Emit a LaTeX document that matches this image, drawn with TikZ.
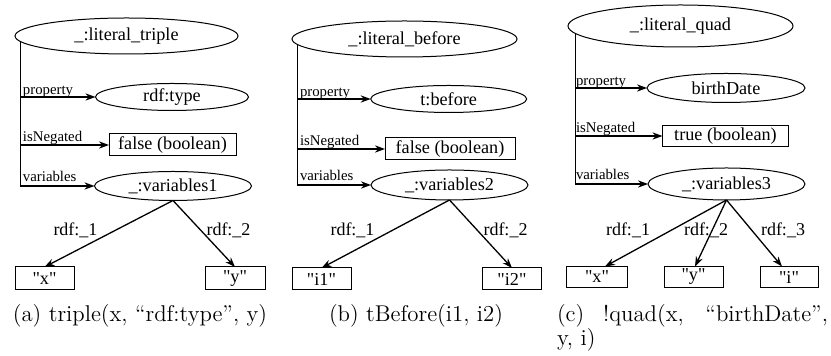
\documentclass[tikz,border=0pt]{standalone}
\usepackage{fontspec}
\newfontfamily\tnr{Liberation Serif}
\newfontfamily\lmr{Latin Modern Roman}
\usetikzlibrary{arrows.meta,shapes.geometric}
\begin{document}
\begin{tikzpicture}[x=0.5pt,y=-0.5pt,
  every node/.style={inner sep=0pt, outer sep=0pt},
  ell/.style={draw, ellipse, line width=0.5pt, font=\tnr\fontsize{9.1}{11}\selectfont},
  box/.style={draw, rectangle, line width=0.5pt, font=\tnr\fontsize{9.1}{11}\selectfont},
  elab/.style={anchor=base west, font=\tnr\fontsize{7.4}{9}\selectfont},
  rlab/.style={font=\tnr\fontsize{9}{11}\selectfont},
  conn/.style={line width=0.65pt, -{Stealth[length=5pt,width=3.6pt]}},
  captxt/.style={font=\lmr\fontsize{11.4}{13.6}\selectfont}]
\useasboundingbox (0,0) rectangle (831,356);
% ---------- panel (a)
\node[ell, minimum width=111.5pt, minimum height=18pt] (lt) at (126.5,36) {\_:literal\_triple};
\node[ell, minimum width=76.5pt, minimum height=13.5pt] (ta) at (172,97) {rdf:type};
\node[box, minimum width=63.5pt, minimum height=11pt] (fa) at (172.5,145) {false (boolean)};
\node[ell, minimum width=78.5pt, minimum height=14.5pt] (va) at (173,186) {\_:variables1};
\node[box, minimum width=29.5pt, minimum height=11.5pt] (xa) at (44.5,278.5) {"x"};
\node[box, minimum width=30pt, minimum height=11.5pt] (ya) at (235,278.5) {"y"};
\draw[conn] (lt.183) |- (ta);
\draw[conn] (lt.183) |- (fa);
\draw[conn] (lt.183) |- (va);
\node[elab] (pa) at (23,95) {property};
\node[elab] (na) at (23,142) {isNegated};
\node[elab] (vla) at (23,182) {variables};
\draw[conn] (va.south) -- (xa.north);
\draw[conn] (va.south) -- (ya.north);
\node[rlab] (r1a) at (75.5,230) {rdf:\_1};
\node[rlab] (r2a) at (228.5,230) {rdf:\_2};
\node[captxt, anchor=base] (ca) at (140,322) {(a) triple(x, “rdf:type”, y)};
% ---------- panel (b)
\node[ell, minimum width=112.5pt, minimum height=18pt] (lb) at (404.5,39) {\_:literal\_before};
\node[ell, minimum width=78pt, minimum height=13.5pt] (tb) at (448.7,99) {t:before};
\node[box, minimum width=65pt, minimum height=11pt] (fb) at (450,149) {false (boolean)};
\node[ell, minimum width=78.5pt, minimum height=15pt] (vb) at (449.5,185) {\_:variables2};
\node[box, minimum width=29.5pt, minimum height=11pt] (i1) at (321.5,279) {"i1"};
\node[box, minimum width=29.5pt, minimum height=11pt] (i2) at (512,279) {"i2"};
\draw[conn] (lb.183) |- (tb);
\draw[conn] (lb.183) |- (fb);
\draw[conn] (lb.183) |- (vb);
\node[elab] (pb) at (300,97) {property};
\node[elab] (nb) at (300,146) {isNegated};
\node[elab] (vlb) at (300,181) {variables};
\draw[conn] (vb.south) -- (i1.north);
\draw[conn] (vb.south) -- (i2.north);
\node[rlab] (r1b) at (352.5,230) {rdf:\_1};
\node[rlab] (r2b) at (505.5,230) {rdf:\_2};
\node[captxt, anchor=base] (cb) at (416,322) {(b) tBefore(i1, i2)};
% ---------- panel (c)
\node[ell, minimum width=112.5pt, minimum height=21pt] (lq) at (680.5,26) {\_:literal\_quad};
\node[ell, minimum width=79pt, minimum height=14.5pt] (bd) at (726,88) {birthDate};
\node[box, minimum width=63pt, minimum height=10.5pt] (tc) at (725.5,136) {true (boolean)};
\node[ell, minimum width=78.5pt, minimum height=16pt] (vc) at (726.5,184) {\_:variables3};
\node[box, minimum width=30.5pt, minimum height=10.5pt] (xc) at (597,277) {"x"};
\node[box, minimum width=29.5pt, minimum height=10.5pt] (yc) at (693.5,277) {"y"};
\node[box, minimum width=29pt, minimum height=10.5pt] (ic) at (789,277) {"i"};
\draw[conn] (lq.184) |- (bd);
\draw[conn] (lq.184) |- (tc);
\draw[conn] (lq.184) |- (vc);
\node[elab] (pc) at (576,86) {property};
\node[elab] (nc) at (576,133) {isNegated};
\node[elab] (vlc) at (576,180) {variables};
\draw[conn] (vc.south) -- ([xshift=4pt]xc.north);
\draw[conn] (vc.south) -- ([xshift=0.75pt]yc.north);
\draw[conn] (vc.south) -- ([xshift=-3.5pt]ic.north);
\node[rlab] (r1c) at (628,230) {rdf:\_1};
\node[rlab] (r2c) at (706,230) {rdf:\_2};
\node[rlab] (r3c) at (783,230) {rdf:\_3};
\node[captxt, anchor=base west] (cc1) at (557,322) {\makebox[135.5pt][s]{(c) !quad(x, “birthDate”,}};
\node[captxt, anchor=base west] (cc2) at (557,346) {y, i)};
\end{tikzpicture}
\end{document}
